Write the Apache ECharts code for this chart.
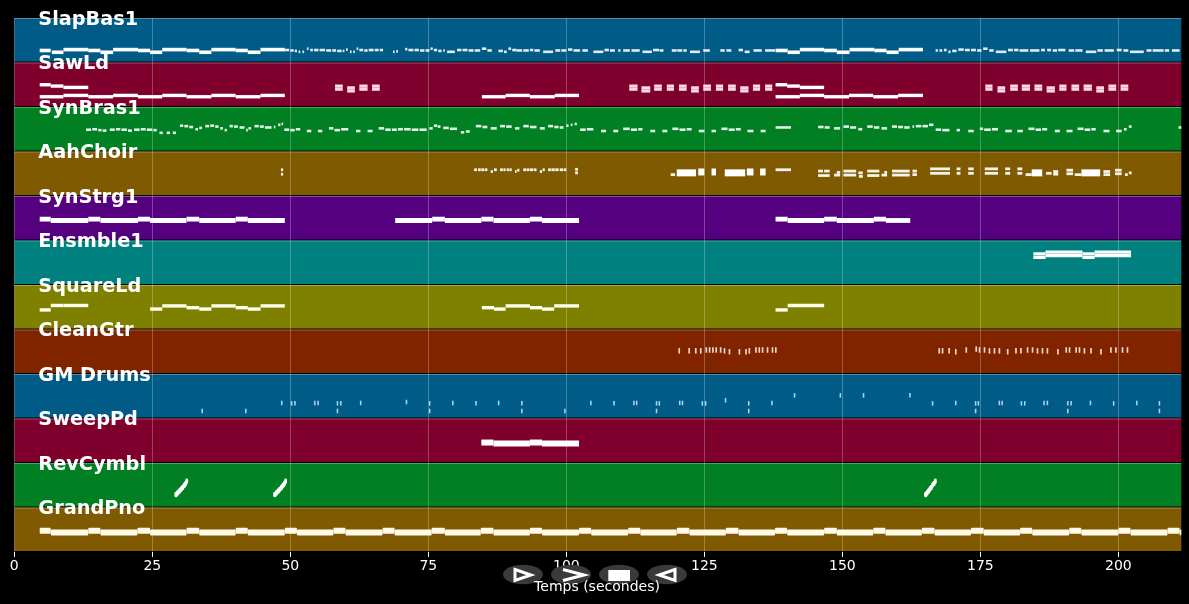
<!DOCTYPE html>
<html><head><meta charset="utf-8"><style>html,body{margin:0;background:#000}#c{width:1189px;height:604px}</style>
<script src="https://cdn.jsdelivr.net/npm/echarts@6/dist/echarts.min.js"></script></head><body><div id="c"></div>
<script>
const trackNames=['SlapBas1','SawLd','SynBras1','AahChoir','SynStrg1','Ensmble1','SquareLd','CleanGtr','GM Drums','SweepPd','RevCymbl','GrandPno'];
const tickValues=[0,25,50,75,100,125,150,175,200];
const timeMax=211.4;
const slapLong=[[4.6,6.6,27],[6.8,8.9,23],[8.9,13.4,29],[13.4,15.6,27],[15.6,17.9,23],[17.9,22.4,29],[22.4,24.6,27],[24.6,26.8,23],[26.8,31.2,29],[31.2,33.5,27],[33.5,35.7,23],[35.7,40.1,29],[40.1,42.3,27],[42.3,44.6,23],[44.6,49,29],[137.9,140.1,27],[140.1,142.3,23],[142.3,146.7,29],[146.7,149,27],[149,151.3,23],[151.3,155.8,29],[155.8,158,27],[158,160.2,23],[160.2,164.6,29]];
const slapFine=[[49,49.8,28],[50,50.6,27],[50.8,51.2,26],[51.5,51.8,24],[52.2,52.5,24],[53,53.3,31],[53.6,54.1,28],[54.3,55.1,28],[55.3,56.3,28],[56.5,57.4,27],[57.6,58.3,27],[58.5,59.3,26],[59.5,59.8,26],[60.1,60.4,29],[60.8,61.1,24],[61.4,61.7,24],[62,62.3,31],[62.5,63.2,28],[63.4,64,27],[64.2,65.1,28],[65.3,66,28],[66.2,66.8,28],[68.6,68.9,24],[69.2,69.5,25],[70.8,71.2,30],[71.4,72.3,28],[72.5,73.3,28],[73.5,74.3,27],[74.5,75.2,27],[75.4,75.8,31],[76,76.6,28],[76.8,77.4,26],[77.7,78,27],[78.4,79.8,24],[80.2,81,28],[81.2,82.1,28],[82.3,83.2,27],[83.4,84.4,27],[84.7,85.5,31],[85.7,86.5,27],[87.7,88.5,26],[88.7,89.2,24],[89.5,90,31],[90.2,91,28],[91,92,27],[92.2,93.2,27],[93.4,94,28],[94.2,95.2,27],[95.8,97.6,24],[98,98.9,27],[99.1,100,27],[100.3,101.1,29],[101.3,102.5,27],[102.9,103.9,27],[104.9,106.7,24],[106.9,107.7,28],[107.9,108.8,27],[109.4,109.8,27],[110.3,111.5,27],[111.8,113.3,27],[113.8,115.5,24],[115.7,116.8,28],[116.9,117.6,27],[119.1,120,27],[120.1,121,27],[121.2,121.8,27],[122.4,124.2,24],[124.8,126,27],[127.9,128.7,27],[129,129.9,27],[131.2,132,28],[132.3,133.2,24],[133.9,135.4,27],[136,137.8,27],[166.9,167.3,27],[167.6,168.1,27],[168.4,168.9,28],[169.2,169.6,24],[169.9,170.7,26],[171,172,29],[172.2,173.1,28],[173.3,174.2,28],[174.4,175.2,27],[175.5,176.3,31],[176.6,177.4,27],[177.8,179.7,24],[180,180.9,28],[181.1,181.9,28],[182.1,183.7,27],[184,185.7,27],[186,186.7,28],[187.1,187.8,28],[188.1,188.9,27],[189.1,190.4,28],[191,192,27],[192.2,193.5,27],[194.1,196,24],[196.2,197.2,27],[197.5,199.2,27],[199.7,200.6,28],[200.9,201.8,27],[202.1,204.6,24],[205.1,206,27],[206.2,208.2,27],[208.4,209.2,27],[209.7,211.1,27]];
const sawLong=[[4.6,6.6,50],[6.6,8.9,47],[8.9,13.4,44],[4.6,8.9,23],[8.9,13.4,26],[13.4,17.9,23],[17.9,22.4,26],[22.4,26.8,23],[26.8,31.2,26],[31.2,35.7,23],[35.7,40.1,26],[40.1,44.6,23],[44.6,49,26],[84.7,89,23],[89,93.4,26],[93.4,97.9,23],[97.9,102.3,26],[137.9,140,50],[140,142.3,47],[142.3,146.7,44],[137.9,142.3,23],[142.3,146.7,26],[146.7,151.2,23],[151.2,155.6,26],[155.6,160.1,23],[160.1,164.6,26]];
const sawChords=[[58.1,59.5,40],[60.3,61.7,36],[62.5,64,40],[64.8,66.2,40],[111.4,112.9,40],[113.6,115.2,36],[115.9,117.3,40],[118.2,119.5,40],[120.4,121.8,40],[122.6,124,36],[124.8,126.2,40],[127.1,128.4,40],[129.3,130.7,40],[131.5,133,36],[133.8,135.1,40],[136,137.3,40],[175.9,177.2,40],[178.1,179.5,36],[180.4,181.8,40],[182.5,184,40],[184.8,186.2,40],[187,188.5,36],[189.3,190.6,40],[191.5,192.9,40],[193.7,195.2,40],[196,197.4,36],[198.2,199.6,40],[200.4,201.8,40]];
const brassFine=[[13,13.9,49],[14.1,15,50],[15.2,15.8,48],[16,16.7,47],[17.3,18.2,49],[18.4,19.2,50],[19.4,20.4,49],[20.6,21.3,47],[21.7,22.7,49],[22.9,23.8,50],[24,25,49],[25.2,25.8,48],[26.3,26.9,42],[27.6,28.2,42],[28.7,29.3,42],[30,30.6,58],[30.8,31.5,57],[31.7,32.4,55],[32.8,33.3,50],[33.5,34,53],[34.6,35.3,57],[35.5,36.2,58],[36.4,37,56],[37.3,37.8,52],[38.1,38.5,48],[39,39.6,57],[39.8,40.5,56],[40.8,41.7,54],[42,42.3,48],[42.4,42.9,52],[43.5,44.3,57],[44.5,45.2,56],[45.4,46.6,54],[47,47.3,55],[47.8,48.2,60],[48.4,48.7,62],[48.9,49.8,49],[50,50.8,48],[51,51.8,50],[53,53.8,46],[55,55.8,46],[57,57.8,52],[58,59,48],[59.2,60.5,50],[61.9,62.7,46],[64,64.9,46],[66,67,52],[67.2,68.2,49],[68.4,69.3,49],[69.5,70.4,50],[70.6,71.8,50],[72,73.2,49],[73.4,74.7,49],[75.2,75.8,52],[76,76.6,58],[76.7,77.2,56],[77.7,78.7,53],[78.9,80.2,51],[80.9,81.5,43],[81.8,82.5,45],[83.6,84.6,57],[84.8,85.7,55],[86.3,87.4,52],[88,88.9,57],[89.1,90.1,56],[90.7,91.5,52],[92.2,93.2,57],[93.4,94.6,55],[95.2,96.1,52],[96.7,97.6,57],[97.8,98.6,55],[98.8,99.5,54],[100,100.4,58],[100.8,101.1,60],[101.5,101.9,62],[102.5,103.5,49],[103.7,104.9,50],[106.3,107.2,46],[108.5,109.4,46],[110.3,111.5,51],[111.7,112.8,49],[113,113.8,50],[115.2,116.1,46],[117.4,118.3,46],[119.2,120.3,51],[120.5,121.6,49],[121.8,122.7,50],[124,125,46],[126.3,127.1,46],[128.1,129.2,51],[129.4,130.5,49],[130.7,131.6,50],[132.8,133.9,46],[135.2,136.1,46],[137.9,140.7,54],[145.6,146.6,55],[146.8,147.7,54],[148.5,149.6,52],[150.2,151.2,56],[151.4,152.5,54],[152.9,153.6,50],[154.5,155.5,56],[155.7,156.7,54],[157.1,158.1,52],[159,159.9,56],[160.1,161,55],[161.2,162.2,54],[162.7,163,56],[163.3,164.3,57],[164.5,165.5,57],[165.7,166.5,60],[166.9,167.9,49],[168.1,169.4,48],[170.7,171.3,48],[172.8,173.8,46],[174.9,175.5,51],[175.7,176.9,49],[177.1,178.2,50],[179.5,180.7,46],[181.7,182.7,46],[183.7,184.8,51],[185,186,49],[186.2,187.1,50],[188.5,189.4,46],[190.6,191.7,46],[192.6,193.7,51],[193.9,194.9,49],[195.1,195.9,50],[197.3,198.4,46],[199.6,200.6,46],[201,201.5,50],[201.9,202.4,56],[210.9,211.4,54]];
const choirFine=[[48.3,48.7,59],[48.3,48.7,49],[83.3,83.8,59],[84,84.5,59],[84.6,85.1,59],[85.2,85.7,59],[86.3,86.7,55],[86.9,87.4,59],[88,88.5,59],[88.6,89,59],[89.2,89.6,59],[89.7,90.1,59],[90.7,91,55],[91.1,91.5,58],[92.2,92.7,59],[92.8,93.3,59],[93.4,94,59],[94.1,94.6,59],[95.2,95.6,55],[95.7,96.1,59],[96.7,97.2,59],[97.3,97.9,59],[98,98.6,59],[98.8,99.4,59],[99.5,100,59],[101.6,102.1,60],[101.6,102.1,52],[118.9,119.7,48],[137.9,140.7,59],[145.6,146.5,56],[146.7,147.7,56],[145.6,147.7,46],[148.5,149.6,47],[149,149.6,53],[150.2,152.5,56],[150.2,152.5,47],[152.9,153.7,52],[153,153.7,44],[154.5,156.7,56],[154.5,156.7,46],[157.1,158.1,47],[157.6,158.1,53],[159,162.2,56],[159,162.2,47],[162.7,163.5,56],[162.7,163.5,48],[165.9,169.5,61],[165.9,169.5,51],[170.7,171.4,61],[170.7,171.4,51],[172.8,173.8,61],[172.8,173.8,51],[175.8,178.2,61],[175.8,178.2,51],[179.5,180.4,61],[179.5,180.4,51],[181.7,182.6,61],[181.7,182.6,51],[183.2,184.3,48],[186.9,187.9,51],[188.2,189.1,55],[188.2,189.1,49],[190.6,191.8,58],[190.6,191.8,50],[192.1,193.3,48],[197.3,198.5,55],[197.3,198.5,48],[199.4,200.6,58],[199.4,200.6,50],[201.2,201.7,48],[201.9,202.4,52]];
const choirBlocks=[[120,123.5,52],[123.9,125,54],[126.3,127.1,54],[128.7,132.4,52],[132.7,133.9,54],[135.1,136.1,54],[184.3,186.2,52],[193.3,196.7,52]];
const strgLong=[[4.6,6.6,48],[6.6,13.4,45],[13.4,15.6,48],[15.6,22.4,45],[22.4,24.6,48],[24.6,31.2,45],[31.2,33.5,48],[33.5,40.1,45],[40.1,42.3,48],[42.3,49,45],[69,75.7,45],[75.7,78,48],[78,84.6,45],[84.6,86.8,48],[86.8,93.4,45],[93.4,95.6,48],[95.6,102.3,45],[137.9,140.1,48],[140.1,146.7,45],[146.7,149,48],[149,155.7,45],[155.7,157.9,48],[157.9,162.3,45]];
const ensembleLong=[[184.6,186.8,70],[184.6,186.8,62],[186.8,193.5,74],[186.8,193.5,66],[193.5,195.7,70],[193.5,195.7,62],[195.7,202.3,74],[195.7,202.3,66]];
const squareLong=[[4.6,6.6,44],[6.6,8.9,54],[8.9,13.4,54],[24.6,26.8,46],[26.8,31.2,53],[31.2,33.5,49],[33.5,35.7,46],[35.7,40.1,53],[40.1,42.3,49],[42.3,44.6,46],[44.6,49,53],[84.7,86.9,49],[86.9,89,46],[89,93.4,53],[93.4,95.6,49],[95.6,97.8,46],[97.8,102.3,53],[137.9,140.1,44],[140.1,146.7,54]];
const guitarTicks=[[120.3,52],[122.1,52],[123.3,52],[124.2,52],[125.2,54],[125.8,54],[126.4,54],[127,54],[127.8,54],[128.5,52],[129.4,50],[131.2,50],[132.4,50],[133,52],[134.2,54],[134.8,54],[135.4,54],[136.3,54],[137.2,54],[137.8,54],[167.4,52],[168,52],[169.2,52],[170.4,50],[172.3,54],[174.1,56],[174.7,54],[175.6,54],[176.5,52],[177.4,52],[178.3,52],[179.8,50],[181.3,52],[182.2,52],[183.4,54],[184.3,54],[185.2,52],[186.1,52],[187,52],[188.9,50],[190.4,54],[191,54],[192.2,54],[192.8,54],[193.7,52],[194.9,52],[196.7,50],[198.5,54],[199.4,54],[200.6,54],[201.5,54]];
const drumHits=[[33.9,17],[41.8,17],[48.3,35],[50.1,34],[50.7,34],[54.3,35],[54.9,35],[58.4,34],[59,34],[58.4,17],[62.6,35],[70.9,37],[75.1,34],[75.1,17],[79.3,35],[83.5,34],[87.6,35],[91.8,34],[91.8,17],[99.6,17],[104.3,35],[108.5,34],[112.1,35],[112.6,35],[116.2,34],[116.7,34],[116.2,17],[120.4,35],[120.9,35],[124.5,34],[125.1,34],[128.7,41],[132.9,34],[132.9,17],[137.1,35],[141.2,52],[149.5,52],[153.7,52],[162.1,52],[166.2,34],[170.4,35],[174,34],[174.5,34],[174,17],[178.3,35],[178.8,35],[182.3,34],[182.9,34],[186.4,35],[187,35],[190.7,34],[191.3,34],[190.7,17],[194.8,35],[199,34],[203.2,35],[207.3,34],[207.3,17]];
const sweepLong=[[84.6,86.8,46],[86.8,93.4,44],[93.4,95.6,46],[95.6,102.3,44]];
const cymbalRuns=[[29,29.6,29],[29.3,29.9,33],[29.6,30.2,37],[29.9,30.5,41],[30.2,30.8,45],[30.5,31.1,50],[30.8,31.3,54],[31,31.5,59],[46.9,47.5,29],[47.2,47.8,33],[47.5,48.1,37],[47.8,48.4,41],[48.1,48.7,45],[48.4,49,50],[48.7,49.2,54],[48.9,49.4,59],[164.8,165.4,29],[165.1,165.6,33],[165.3,165.9,37],[165.6,166.1,41],[165.8,166.4,45],[166.1,166.6,50],[166.3,166.9,54],[166.6,167.1,59]];
const pianoLong=[[4.6,6.6,48],[6.6,13.4,44],[13.4,15.6,48],[15.6,22.3,44],[22.3,24.6,48],[24.6,31.2,44],[31.2,33.5,48],[33.5,40.1,44],[40.1,42.3,48],[42.3,49,44],[49,51.2,48],[51.2,57.8,44],[57.8,60,48],[60,66.7,44],[66.7,68.9,48],[68.9,75.6,44],[75.6,78,48],[78,84.5,44],[84.5,86.8,48],[86.8,93.4,44],[93.4,95.6,48],[95.6,102.3,44],[102.3,104.5,48],[104.5,111.2,44],[111.2,113.4,48],[113.4,120,44],[120,122.3,48],[122.3,128.9,44],[128.9,131.2,48],[131.2,137.8,44],[137.8,140,48],[140,146.7,44],[146.7,149,48],[149,155.6,44],[155.6,157.8,48],[157.8,164.4,44],[164.4,166.7,48],[166.7,173.3,44],[173.3,175.6,48],[175.6,182.2,44],[182.2,184.4,48],[184.4,191.1,44],[191.1,193.3,48],[193.3,200,44],[200,202.2,48],[202.2,208.9,44],[208.9,211.1,48],[211.1,211.4,44]];

const rowSpan=100, rowInset=2;
const baseOf=i=>(trackNames.length-1-i)*rowSpan+rowInset;
const bandColors=['#005b87','#80002d','#008023','#805a00','#55007f','#00807f','#808000','#802400','#005b87','#80002d','#008023','#805a00'];
const layers=[
 {row:0,notes:slapLong,h:3.6,c:'#ffffff'},{row:0,notes:slapFine,h:2.6,c:'rgba(255,255,255,.88)'},
 {row:1,notes:sawLong,h:3.4,c:'#ffffff'},{row:1,notes:sawChords,h:3.2,c:'#f8d8e4'},{row:1,notes:sawChords,h:3.2,c:'#f8d8e4',shift:7},
 {row:2,notes:brassFine,h:2.6,c:'rgba(255,255,255,.88)'},
 {row:3,notes:choirFine,h:2.8,c:'rgba(255,255,255,.92)'},{row:3,notes:choirBlocks,h:7,c:'#ffffff'},
 {row:4,notes:strgLong,h:4.8,c:'#ffffff'},{row:5,notes:ensembleLong,h:3.2,c:'#ffffff'},{row:6,notes:squareLong,h:3.4,c:'#fffff0'},
 {row:7,notes:guitarTicks.map(t=>[t[0],t[0]+.3,t[1]]),h:5.5,c:'#f2d9cc'},
 {row:8,notes:drumHits.map(t=>[t[0],t[0]+.28,t[1]]),h:4.5,c:'#a8d8f2'},
 {row:9,notes:sweepLong,h:6,c:'#ffffff'},{row:10,notes:cymbalRuns,h:5.5,c:'#ffffff',r:2},{row:11,notes:pianoLong,h:6,c:'#fffbe8',r:1}
];
const noteDrop=2;
const noteSeries=layers.map(L=>({type:'custom',z:6,silent:true,clip:true,coordinateSystem:'cartesian2d',
 data:L.notes,encode:{x:[0,1],y:2},
 renderItem(p,api){const y=baseOf(L.row)+api.value(2)+(L.shift||0)-noteDrop;
  const a=api.coord([api.value(0),y]),b=api.coord([api.value(1),y]);
  return {type:'rect',shape:{x:a[0],y:a[1]-L.h/2,width:Math.max(b[0]-a[0],1.4),height:L.h,r:L.r||0},style:{fill:L.c}};}}));
const bandSeries={type:'custom',z:1,silent:true,data:trackNames.map((n,i)=>[0,timeMax,i]),encode:{x:[0,1]},
 renderItem(p,api){const i=api.value(2);const a=api.coord([0,baseOf(i)+rowSpan-rowInset]),b=api.coord([timeMax,baseOf(i)]);
  return {type:'group',children:[
   {type:'rect',shape:{x:a[0],y:a[1],width:b[0]-a[0],height:b[1]-a[1]},style:{fill:bandColors[i]}},
   {type:'rect',shape:{x:a[0],y:a[1],width:b[0]-a[0],height:1},style:{fill:'rgba(255,255,255,.3)'}}]};}};
const labelSeries={type:'custom',z:8,silent:true,clip:false,data:trackNames.map((n,i)=>[4.35,i]),encode:{x:0},
 renderItem(p,api){const i=api.value(1);const a=api.coord([api.value(0),baseOf(i)+rowSpan]);
  return {type:'text',x:a[0],y:a[1]+2.5,style:{text:trackNames[i],fill:'#fff',font:'bold 19.3px "DejaVu Sans"',textAlign:'left',textVerticalAlign:'middle'}};}};
const ell=(cx)=>({type:'ellipse',z:20,shape:{cx,cy:574.5,rx:20,ry:9.7},style:{fill:'#3a3a3a'}});
const poly=(points,closed)=>({type:closed?'polygon':'polyline',z:21,shape:{points},style:{fill:'none',stroke:'#fff',lineWidth:3}});
const chart=echarts.init(document.getElementById('c'),null,{renderer:'canvas'});
chart.setOption({animation:false,backgroundColor:'#000',
 grid:{left:14.3,top:18,width:1167,height:534},
 xAxis:{type:'value',min:0,max:timeMax,z:5,
  axisLine:{show:false},
  axisTick:{show:true,length:5,lineStyle:{color:'#fff',width:1},customValues:tickValues},
  axisLabel:{color:'#fff',fontFamily:'DejaVu Sans',fontSize:14,margin:7,customValues:tickValues},
  splitLine:{show:true,lineStyle:{color:'rgba(255,255,255,.25)',width:1}}},
 yAxis:{type:'value',min:0,max:trackNames.length*rowSpan,show:false},
 series:[bandSeries,...noteSeries,labelSeries],
 graphic:[ell(523),ell(571),ell(619),ell(667),
  poly([[515,569.5],[531,575],[515,580.5]],true),
  poly([[563,569.5],[584,575],[563,580.5]],false),
  {type:'rect',z:21,shape:{x:608.3,y:570,width:21.7,height:11},style:{fill:'#fff'}},
  poly([[675,569.5],[659,575],[675,580.5]],true),
  {type:'text',z:22,x:597,y:587.5,style:{text:'Temps (secondes)',fill:'#fff',font:'14px "DejaVu Sans"',textAlign:'center',textVerticalAlign:'middle'}}]
});
</script></body></html>
